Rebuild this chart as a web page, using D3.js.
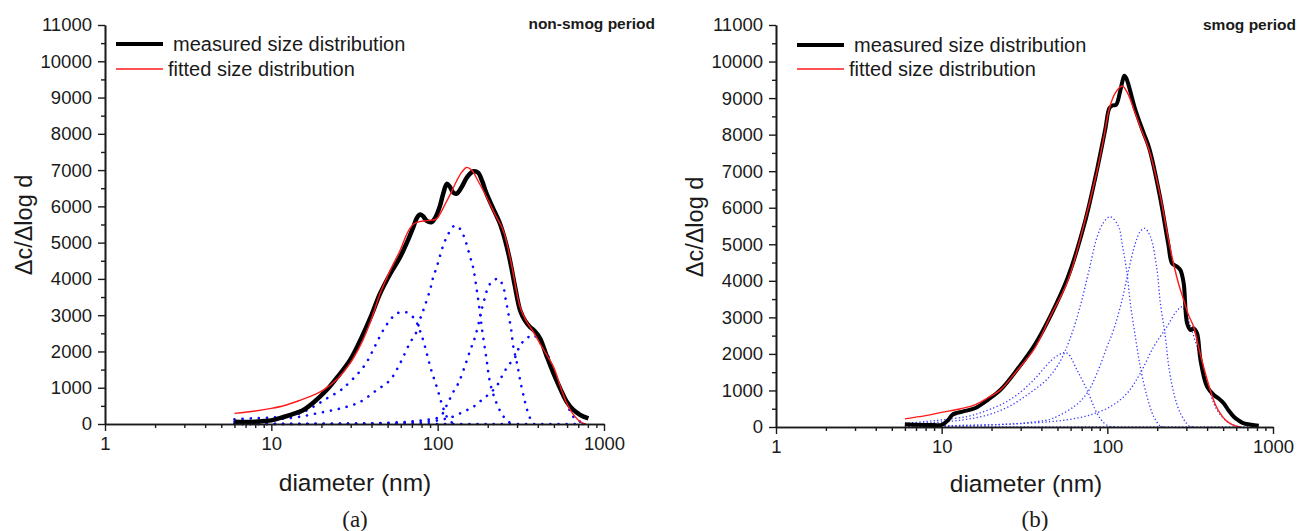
<!DOCTYPE html>
<html><head><meta charset="utf-8">
<script src="https://cdn.jsdelivr.net/npm/d3@7"></script>
<style>
body{margin:0;background:#fff;}
svg{display:block;}
text{font-family:"Liberation Sans",Arial,sans-serif;fill:#1a1a1a;}
</style>
</head><body>
<svg id="c" width="1297" height="531"></svg>
<script>
// ---------- tick labels ----------
const xTicks = [1, 10, 100, 1000];
const yTicks = [0, 1000, 2000, 3000, 4000, 5000, 6000, 7000, 8000, 9000, 10000, 11000];
const legendLabels = ["measured size distribution", "fitted size distribution"];

// ---------- panel (a): non-smog period ----------  [diameter nm, value]
const aMeasured = [[6,60],[7,55],[8,62],[9,80],[10,100],[12,200],[14,300],[15.5,380],[18,600],[21.5,935],[25,1300],[29.7,1760],[35,2400],[40,3000],[45,3590],[52,4150],[59.4,4600],[66,5050],[71.4,5430],[75,5680],[78.4,5775],[82,5720],[86,5600],[92,5565],[97,5700],[103,6000],[108,6350],[113.5,6620],[118,6550],[124,6380],[130,6350],[140,6550],[150,6800],[164,6967],[175,6930],[185,6700],[197,6345],[215,5950],[237,5520],[255,5050],[272,4510],[290,3850],[313,3135],[335,2850],[359,2676],[385,2550],[413,2357],[450,1900],[497,1394],[545,980],[597,613],[650,400],[720,250],[806,157]];
const aFitted = [[6,294],[8,360],[10,430],[12,510],[15,660],[18,800],[20.5,935],[25,1250],[29.7,1670],[35,2250],[40,2900],[45,3590],[52,4250],[59.4,4785],[64,5150],[67.8,5380],[72,5520],[78,5580],[85,5600],[92,5620],[98.5,5655],[105,5850],[112,6100],[119.5,6345],[130,6700],[140,6950],[149.5,7075],[160,7000],[175,6700],[197,6250],[220,5800],[248,5335],[275,4500],[313,3225],[340,2850],[376,2540],[420,2150],[497,1576],[550,1000],[597,568],[650,280],[720,63],[780,0]];
const aModeA = [[6,128],[8,160],[10,180],[11.3,200],[13,240],[14.9,294],[17.9,476],[21.5,700],[25.9,920],[28,1050],[33.3,1400],[37.4,1700],[42,2150],[47,2580],[52,2880],[56.6,3045],[63.7,3090],[69,3000],[73.3,2870],[80,2450],[86,1943],[92,1450],[98.7,1026],[106,550],[113.5,200],[120,60],[130,0]];
const aModeB = [[6,60],[8,80],[10,110],[12,150],[14.9,200],[18.8,294],[23.6,385],[28.5,476],[34.3,613],[43,935],[51.7,1210],[59.4,1670],[67.8,2220],[74.6,2540],[78,2860],[82,3135],[90,3700],[94,4050],[98.7,4326],[108,4920],[116,5245],[127,5475],[135,5400],[143,5200],[157,4600],[164,4280],[172,3685],[180,3045],[184,2676],[197,1760],[207,1120],[226,570],[245,250],[266,63],[290,0]];
const aModeC = [[6,0],[30,10],[60,50],[80,100],[103,200],[113,500],[123,850],[133,1120],[143,1485],[157,2035],[168,2400],[180,2950],[188,3320],[207,3870],[232,4005],[248,3775],[257,3410],[266,3045],[277,2585],[285,2126],[300,1670],[313,1210],[335,613],[350,294],[365,100],[380,0]];
const aModeD = [[6,0],[50,20],[70,40],[88,60],[103,110],[123,200],[143,338],[164,476],[184,660],[211,890],[232,1120],[248,1394],[272,1670],[293,1850],[313,2170],[342,2357],[376,2450],[413,2263],[454,1944],[497,1485],[545,1026],[597,568],[654,200],[720,63],[790,0]];
const aBaseline = [[6,0],[800,0]];

// ---------- panel (b): smog period ----------
const bMeasured = [[6,74],[7,60],[8,55],[9,55],[10,56],[11,200],[11.6,334],[13.5,427],[16,520],[19.1,751],[22.8,1030],[28.7,1586],[36.3,2235],[45.7,3070],[57.7,4090],[72.9,5574],[86.8,7058],[97.4,8171],[103,8728],[108,8800],[113,8820],[119.5,9190],[124,9500],[126.7,9609],[130,9550],[134,9377],[146.5,8728],[164.5,8078],[179.4,7615],[207.5,6316],[233,5018],[246,4479],[262,4400],[276,4296],[289,3932],[303,2838],[318,2654],[332,2700],[348,2564],[365,1833],[400,1103],[439,876],[470,780],[504,649],[540,450],[580,282],[620,180],[667,101],[740,60],[821,36]];
const bFitted = [[6,223],[8,310],[10,399],[13,500],[16,612],[19,800],[22.8,1030],[28,1500],[36.3,2142],[45,3000],[57.7,3997],[70,5300],[86.8,7012],[95,7900],[103,8728],[112,9150],[123,9330],[132,9150],[146,8635],[160,8150],[179,7568],[207,6408],[230,5300],[252,4433],[270,3900],[289,3475],[310,3050],[332,2745],[355,2200],[381,1650],[418,1012],[450,600],[480,375],[515,200],[550,101],[600,20],[640,0]];
const bMode1 = [[6,102],[8,150],[10,195],[14.3,288],[18.1,427],[22.8,612],[28.7,890],[36.3,1308],[45.7,1818],[50,1950],[54.4,2033],[58,2000],[65.6,1560],[75.4,1012],[86.6,375],[95,120],[101.8,27],[110,0]];
const bMode2 = [[6,83],[9,121],[13.5,195],[19.1,334],[25.6,566],[34.2,937],[43.3,1308],[51.5,1771],[59.6,2421],[69,3348],[77.4,4276],[86.8,5203],[95,5600],[104.2,5755],[117,5481],[122.7,5027],[131.5,4206],[137.7,3385],[147.6,2471],[158,1650],[173.8,829],[190.6,282],[209,27],[225,0]];
const bMode3 = [[6,20],[20,60],[30,100],[45,210],[49.4,282],[62.8,555],[75.4,922],[86.6,1469],[99.6,2197],[109,2654],[122.7,3475],[134.5,4296],[147.6,5027],[158,5350],[168,5437],[182,5207],[199.5,4296],[209,3385],[224,2471],[235,1650],[252,922],[276,375],[310,36],[330,0]];
const bMode4 = [[6,20],[20,60],[45,145],[59.7,210],[78.5,328],[104.2,555],[131.5,922],[158,1469],[190.6,2197],[229,2744],[260,3150],[283,3292],[296,3155],[318,2744],[348,2197],[381,1560],[418,922],[459,465],[530,145],[610,20],[660,0]];
const bBaseline = [[6,0],[820,0]];

const svg = d3.select("#c");

function minorLog() {
  const out = [];
  for (let e = 0; e < 3; e++) for (let m = 2; m <= 9; m++) out.push(m * Math.pow(10, e));
  return out;
}

function drawPanel(p) {
  const x = d3.scaleLog().domain([1, 1000]).range([p.x0, p.x1]);
  const y = d3.scaleLinear().domain([0, 11000]).range([p.y0, p.y1]);
  const g = svg.append("g");

  const line = d3.line().x(d => x(d[0])).y(d => y(d[1])).curve(d3.curveCatmullRom.alpha(0.5));

  p.modes.forEach(m => {
    g.append("path").attr("d", line(m)).attr("fill", "none")
      .attr("stroke", p.blue).attr("stroke-width", p.blueW)
      .attr("stroke-dasharray", p.blueDash).attr("stroke-linecap", p.blueCap);
  });
  g.append("path").attr("d", line(p.measured)).attr("fill", "none")
    .attr("stroke", "#000").attr("stroke-width", p.blackW).attr("stroke-linejoin", "round");
  g.append("path").attr("d", line(p.fitted)).attr("fill", "none")
    .attr("stroke", "#ff1a1a").attr("stroke-width", 1.4);

  const axStyle = sel => {
    sel.selectAll("path.domain").attr("stroke", "#1a1a1a").attr("stroke-width", 1.6);
    sel.selectAll(".tick line").attr("stroke", "#1a1a1a").attr("stroke-width", 1.4);
    sel.selectAll(".tick text").style("font-size", "18.5px").attr("fill", "#1a1a1a");
  };
  g.append("g").attr("transform", `translate(0,${p.y0})`)
    .call(d3.axisBottom(x).tickValues(minorLog()).tickSize(4).tickSizeOuter(0).tickFormat(""))
    .call(axStyle);
  g.append("g").attr("transform", `translate(0,${p.y0})`)
    .call(d3.axisBottom(x).tickValues(xTicks).tickSize(7).tickSizeOuter(0).tickPadding(6).tickFormat(d3.format("d")))
    .call(axStyle);
  const yMinor = yTicks.slice(0, -1).map(v => v + 500);
  g.append("g").attr("transform", `translate(${p.x0},0)`)
    .call(d3.axisLeft(y).tickValues(yMinor).tickSize(4).tickSizeOuter(0).tickFormat(""))
    .call(axStyle);
  g.append("g").attr("transform", `translate(${p.x0},0)`)
    .call(d3.axisLeft(y).tickValues(yTicks).tickSize(7).tickSizeOuter(0).tickPadding(6).tickFormat(d3.format("d")))
    .call(axStyle);

  g.append("text").attr("x", p.xTitleX).attr("y", p.xTitleY)
    .attr("text-anchor", "middle").style("font-size", "24.5px").text("diameter (nm)");
  g.append("text").attr("transform", `translate(${p.yTitleX},${p.yTitleY}) rotate(-90)`)
    .attr("text-anchor", "middle").attr("dy", "0.35em").style("font-size", "23.5px").text("\u0394c/\u0394log d");

  g.append("line").attr("x1", p.legX).attr("x2", p.legX + 47).attr("y1", p.legY1).attr("y2", p.legY1)
    .attr("stroke", "#000").attr("stroke-width", 4);
  g.append("text").attr("x", p.legX + 57).attr("y", p.legY1).attr("dy", "0.35em")
    .style("font-size", "20px").text(legendLabels[0]);
  g.append("line").attr("x1", p.legX).attr("x2", p.legX + 47).attr("y1", p.legY2).attr("y2", p.legY2)
    .attr("stroke", "#ff1a1a").attr("stroke-width", 1.6);
  g.append("text").attr("x", p.legX + 52).attr("y", p.legY2).attr("dy", "0.35em")
    .style("font-size", "20px").text(legendLabels[1]);

  g.append("text").attr("x", p.titleX).attr("y", p.titleY).attr("text-anchor", "end")
    .style("font-size", "15.5px").style("font-weight", "bold").text(p.title);
  g.append("text").attr("x", p.capX).attr("y", 527).attr("text-anchor", "middle")
    .style("font-family", "'Liberation Serif','Times New Roman',serif").style("font-size", "23px").text(p.caption);
}

drawPanel({
  x0: 105, x1: 604, y0: 424, y1: 25,
  measured: aMeasured, fitted: aFitted, modes: [aBaseline, aModeA, aModeB, aModeC, aModeD],
  blue: "#0a0aff", blueW: 2.6, blueDash: "0.1 8", blueCap: "round", blackW: 4.5,
  xTitleX: 355, xTitleY: 491, yTitleX: 24, yTitleY: 225,
  legX: 116, legY1: 44, legY2: 69,
  title: "non-smog period", titleX: 655, titleY: 29, caption: "(a)", capX: 355
});
drawPanel({
  x0: 776, x1: 1273, y0: 427, y1: 25,
  measured: bMeasured, fitted: bFitted, modes: [bBaseline, bMode1, bMode2, bMode3, bMode4],
  blue: "#3a3aff", blueW: 1.3, blueDash: "1.3 2.3", blueCap: "butt", blackW: 4,
  xTitleX: 1026, xTitleY: 492, yTitleX: 695, yTitleY: 227,
  legX: 797, legY1: 45, legY2: 69,
  title: "smog period", titleX: 1296, titleY: 30, caption: "(b)", capX: 1035
});
</script>
</body></html>
